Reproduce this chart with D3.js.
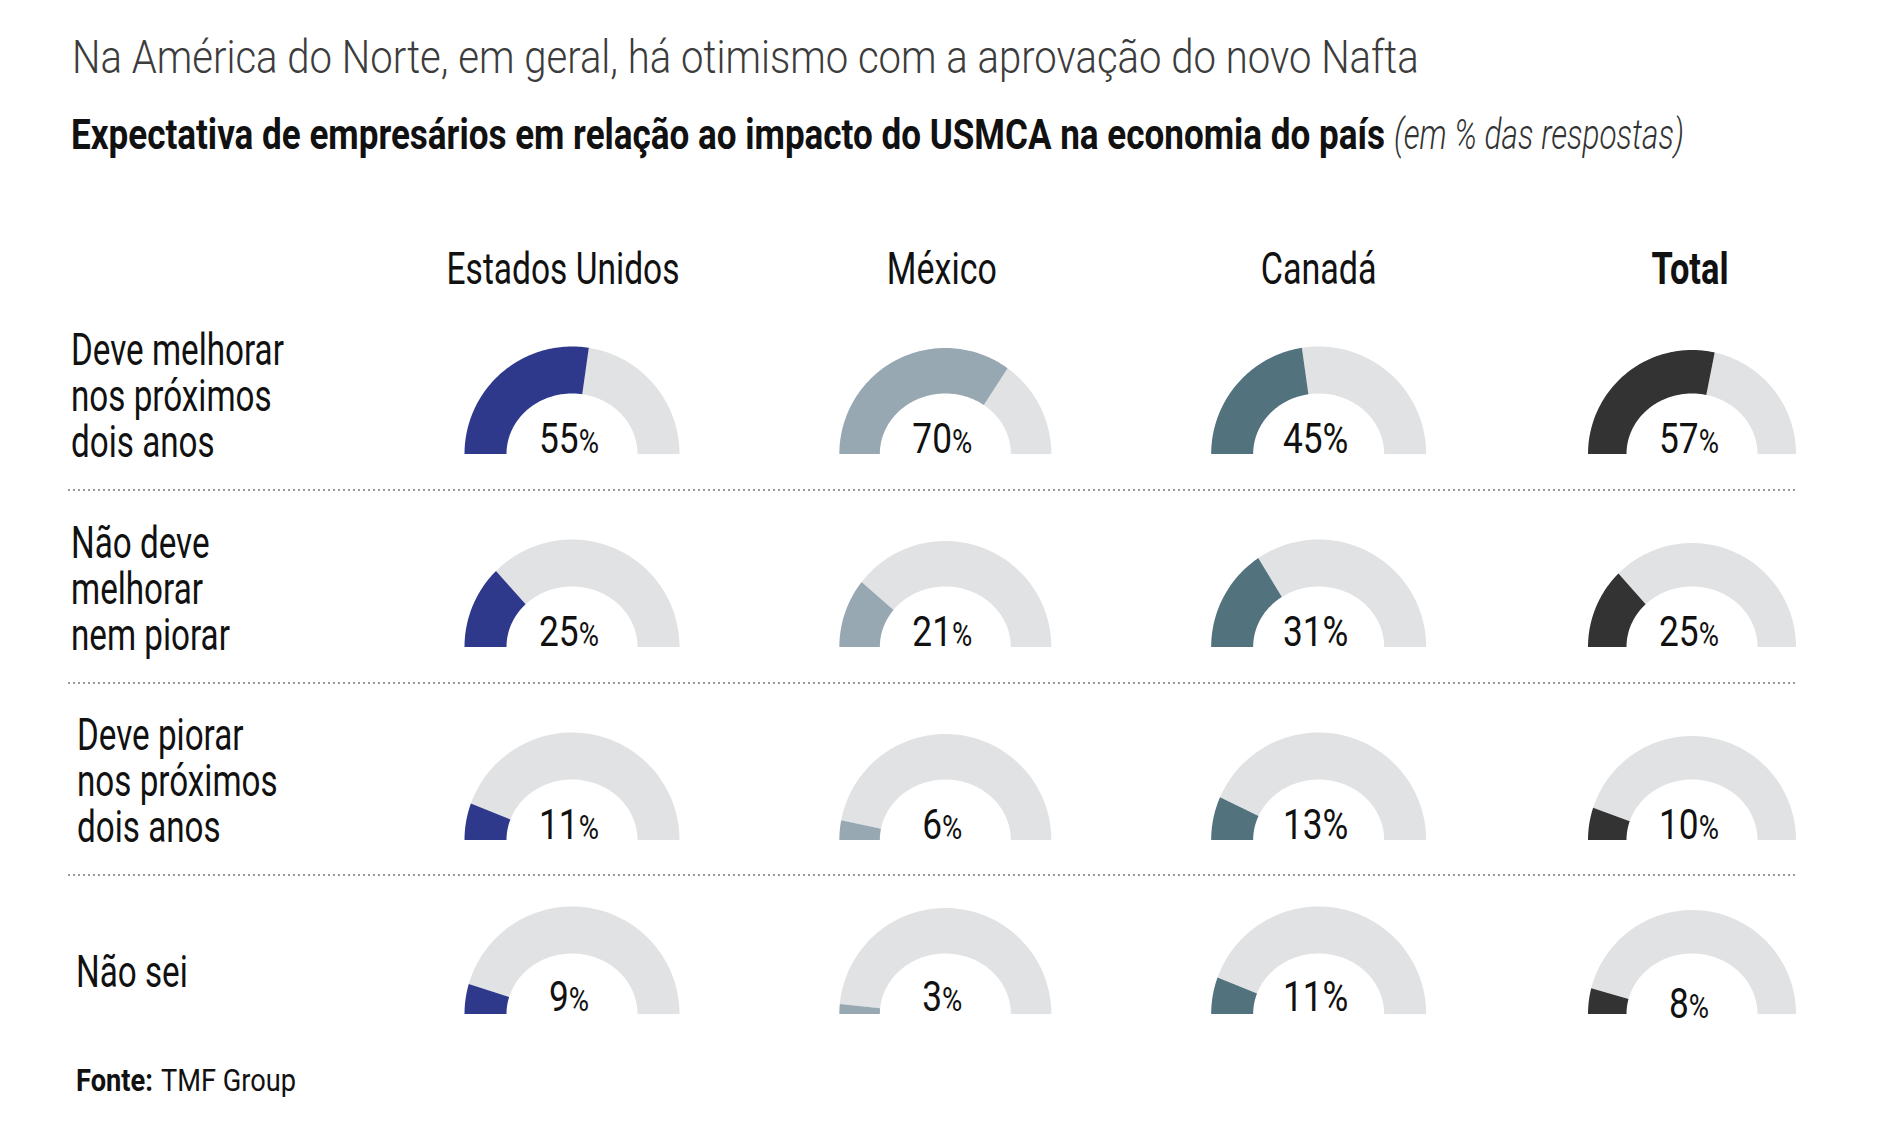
<!DOCTYPE html>
<html><head><meta charset="utf-8">
<script src="https://cdn.jsdelivr.net/npm/d3@7"></script>
<style>
body{margin:0;background:#fff}
svg{display:block}
text{font-family:Roboto,"Noto Sans",sans-serif}
</style>
</head><body>
<svg id="c" width="1878" height="1124"></svg>
<script>
// ---------- data ----------
const titleText = "Na América do Norte, em geral, há otimismo com a aprovação do novo Nafta";
const subtitleBold = "Expectativa de empresários em relação ao impacto do USMCA na economia do país";
const subtitleItalic = "(em % das respostas)";
const sourceLabel = "Fonte:";
const sourceText = "TMF Group";
const countries = ["Estados Unidos", "México", "Canadá", "Total"];
const answers = ["Deve melhorar nos próximos dois anos", "Não deve melhorar nem piorar", "Deve piorar nos próximos dois anos", "Não sei"];
const answerLines = [["Deve melhorar", "nos próximos", "dois anos"], ["Não deve", "melhorar", "nem piorar"], ["Deve piorar", "nos próximos", "dois anos"], ["Não sei"]];
const valuesUS = [55, 25, 11, 9];
const valuesMX = [70, 21, 6, 3];
const valuesCA = [45, 31, 13, 11];
const valuesTotal = [57, 25, 10, 8];

// ---------- layout / style ----------
const seriesByCountry = {"Estados Unidos": valuesUS, "México": valuesMX, "Canadá": valuesCA, "Total": valuesTotal};
const colorScale = d3.scaleOrdinal().domain(countries).range(["#2e398b", "#97a8b2", "#52727d", "#333333"]);
const bgColor = "#e1e2e4";
const col = d3.scalePoint().domain(countries).range([572, 1692]);
const rowBase = d3.scaleOrdinal().domain(answers).range([454, 647, 840, 1014]);
const labelY = d3.scaleOrdinal().domain(answers).range([365, 558, 750, 987]);
const labelX = d3.scaleOrdinal().domain(answers).range([71, 71, 77, 76]);
const angle = d3.scaleLinear().domain([0, 100]).range([Math.PI, 0]);

const svg = d3.select("#c");

// Condensed text: natural text squeezed horizontally with a transform
function condensed(parent, str, x, y, width, opts) {
  const t = parent.append("text")
    .attr("font-size", opts.size)
    .attr("font-weight", opts.weight || 400)
    .attr("font-style", opts.style || "normal")
    .attr("fill", opts.fill || "#111")
    .attr("text-anchor", opts.anchor || "start")
    .text(str);
  const w = t.node().getComputedTextLength();
  const k = width / w;
  t.attr("transform", `translate(${x},${y}) scale(${k},1)`);
  return {node: t, k: k, natural: w};
}

// Title & subtitle
condensed(svg, titleText, 72, 73, 1347, {size: 46, weight: 300, fill: "#3c3c3c"});
condensed(svg, subtitleBold, 71, 149, 1314, {size: 43, weight: 700, fill: "#111"});
condensed(svg, subtitleItalic, 1394, 149, 290, {size: 43, weight: 300, style: "italic", fill: "#333"});

// Column headers
const headerW = {"Estados Unidos": 233, "México": 110, "Canadá": 116, "Total": 77};
const headerShift = {"Estados Unidos": -9, "México": -3.5, "Canadá": 0, "Total": -2};
countries.forEach(c => {
  condensed(svg, c, col(c) + headerShift[c], 284, headerW[c],
    {size: 44, weight: c === "Total" ? 700 : 400, anchor: "middle"});
});

// Row labels (common condensing factor calibrated on the first line)
const labelSize = 43.5;
const probe = condensed(svg, answerLines[0][0], labelX(answers[0]), labelY(answers[0]), 213, {size: labelSize});
const kLabel = probe.k;
answers.forEach((a, i) => {
  answerLines[i].forEach((line, j) => {
    if (i === 0 && j === 0) return;
    const t = svg.append("text").attr("font-size", labelSize).attr("fill", "#111").text(line);
    t.attr("transform", `translate(${labelX(a)},${labelY(a) + j * 46}) scale(${kLabel},1)`);
  });
});

// Separators
const sepY = [490, 683, 875];
svg.append("g").selectAll("line").data(sepY).join("line")
  .attr("x1", 68).attr("x2", 1796).attr("y1", d => d).attr("y2", d => d)
  .attr("stroke", "#9a9a9a").attr("stroke-width", 2).attr("stroke-dasharray", "2,3");

// Gauges
const line = d3.line();
function bandPath(cx, by, R, rix, riy, a0, a1) {
  const n = 90;
  const ts = d3.range(n + 1).map(k => a0 + (a1 - a0) * k / n);
  const outer = ts.map(t => [cx + R * Math.cos(t), by - R * Math.sin(t)]);
  const inner = ts.slice().reverse().map(t => [cx + rix * Math.cos(t), by - riy * Math.sin(t)]);
  return line(outer.concat(inner)) + "Z";
}
const kPct = 0.84;
answers.forEach((a, i) => {
  countries.forEach(c => {
    const v = seriesByCountry[c][i];
    const cx = col(c), by = rowBase(a);
    const R = c === "Total" ? 104 : (c === "México" ? 106 : 107.5);
    const rix = 65.5, riy = 60.5;
    const g = svg.append("g");
    g.append("path").attr("d", bandPath(cx, by, R, rix, riy, angle(v), 0)).attr("fill", bgColor);
    g.append("path").attr("d", bandPath(cx, by, R, rix, riy, Math.PI, angle(v))).attr("fill", colorScale(c));
    let dy = -1;
    if (i === 3) dy = (c === "Total") ? 3.5 : -3;
    const t = g.append("text").attr("transform", `translate(${cx - 3},${by + dy}) scale(${kPct},1)`)
      .attr("text-anchor", "middle").attr("fill", "#111");
    t.append("tspan").attr("font-size", 42).text(v);
    t.append("tspan").attr("font-size", c === "Canadá" ? 42 : 33).text("%");
  });
});

// Source
condensed(svg, sourceLabel, 76, 1091, 77, {size: 32, weight: 700});
condensed(svg, sourceText, 161, 1091, 135, {size: 32, weight: 400});
</script>
</body></html>
